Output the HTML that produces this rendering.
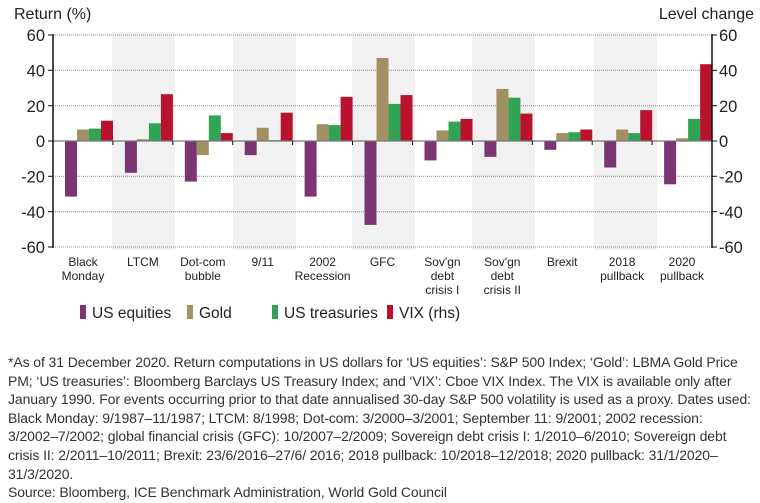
<!DOCTYPE html>
<html><head><meta charset="utf-8"><style>
body{margin:0;background:#fff;font-family:"Liberation Sans",sans-serif;color:#222}
.note{position:absolute;left:8px;top:353px;width:752px;font-size:14px;letter-spacing:-0.1px;line-height:18.6px;color:#333;white-space:nowrap}
</style></head><body>
<div style="position:relative;width:760px;height:503px;overflow:hidden">
<svg width="760" height="503" style="position:absolute;left:0;top:0" font-family="Liberation Sans, sans-serif">
<g fill="#f1f1f1">
<rect x="112" y="32" width="63" height="218"/>
<rect x="233" y="32" width="63" height="218"/>
<rect x="352" y="32" width="63" height="218"/>
<rect x="472" y="32" width="63" height="218"/>
<rect x="594" y="32" width="63" height="218"/>
</g>
<g stroke="#888" stroke-dasharray="1,1" stroke-width="1">
<line x1="53" x2="712" y1="35" y2="35"/><line x1="53" x2="712" y1="70.3" y2="70.3"/>
<line x1="53" x2="712" y1="105.7" y2="105.7"/><line x1="53" x2="712" y1="176.3" y2="176.3"/>
<line x1="53" x2="712" y1="211.7" y2="211.7"/><line x1="53" x2="712" y1="247" y2="247"/>
</g>
<g id="bars"></g>
<line x1="53" x2="712" y1="141" y2="141" stroke="#777" stroke-width="1.2"/>
<g stroke="#111" stroke-width="1.5">
<line x1="53" x2="53" y1="34" y2="248"/><line x1="712" x2="712" y1="34" y2="248"/>
</g>
<g id="ticks" stroke="#111" stroke-width="1"></g>
<g font-size="16.5" fill="#222" text-anchor="end">
<text x="45" y="41">60</text><text x="45" y="76.5">40</text><text x="45" y="112">20</text><text x="45" y="147">0</text><text x="45" y="182.5">-20</text><text x="45" y="218">-40</text><text x="45" y="253">-60</text>
</g>
<g font-size="16.5" fill="#222" text-anchor="start">
<text x="719" y="41">60</text><text x="719" y="76.5">40</text><text x="719" y="112">20</text><text x="719" y="147">0</text><text x="719" y="182.5">-20</text><text x="719" y="218">-40</text><text x="719" y="253">-60</text>
</g>
<text x="14" y="19" font-size="16" fill="#222">Return (%)</text>
<text x="754" y="19" font-size="16" fill="#222" text-anchor="end">Level change</text>
<g id="cats" font-size="12" fill="#222" text-anchor="middle"></g>
<g font-size="15.5" fill="#222">
<rect x="80" y="305" width="6" height="14" fill="#7b3572"/><text x="92" y="318">US equities</text>
<rect x="187" y="305" width="6" height="14" fill="#a09064"/><text x="199" y="318">Gold</text>
<rect x="272" y="305" width="6" height="14" fill="#31a354"/><text x="284" y="318">US treasuries</text>
<rect x="387" y="305" width="6" height="14" fill="#b8122f"/><text x="399" y="318">VIX (rhs)</text>
</g>
</svg>
<div class="note">*As of 31 December 2020. Return computations in US dollars for ‘US equities’: S&amp;P 500 Index; ‘Gold’: LBMA Gold Price<br>PM; ‘US treasuries’: Bloomberg Barclays US Treasury Index; and ‘VIX’: Cboe VIX Index. The VIX is available only after<br>January 1990. For events occurring prior to that date annualised 30-day S&amp;P 500 volatility is used as a proxy. Dates used:<br>Black Monday: 9/1987–11/1987; LTCM: 8/1998; Dot-com: 3/2000–3/2001; September 11: 9/2001; 2002 recession:<br>3/2002–7/2002; global financial crisis (GFC): 10/2007–2/2009; Sovereign debt crisis I: 1/2010–6/2010; Sovereign debt<br>crisis II: 2/2011–10/2011; Brexit: 23/6/2016–27/6/ 2016; 2018 pullback: 10/2018–12/2018; 2020 pullback: 31/1/2020–<br>31/3/2020.<br>Source: Bloomberg, ICE Benchmark Administration, World Gold Council</div>
</div>
<script>
var d=[[-31.5,6.5,7,11.5],[-18,1,10,26.5],[-23,-8,14.5,4.5],[-8,7.5,0.5,16],[-31.5,9.5,9,25],[-47.5,47,21,26],[-11,6,11,12.5],[-9,29.5,24.5,15.5],[-5,4.5,5,6.5],[-15,6.5,4.5,17.5],[-24.5,1.5,12.5,43.5]];
var labs=[["Black","Monday"],["LTCM"],["Dot-com","bubble"],["9/11"],["2002","Recession"],["GFC"],["Sov'gn","debt","crisis I"],["Sov'gn","debt","crisis II"],["Brexit"],["2018","pullback"],["2020","pullback"]];
var col=["#7b3572","#a09064","#31a354","#b8122f"];
var w=659/11,s=212/120,z=141,h="",t="",c="";
for(var i=0;i<11;i++){var x0=53+i*w;
for(var j=0;j<4;j++){var v=d[i][j],y=v>=0?z-v*s:z,hh=Math.abs(v)*s;
h+='<rect x="'+(x0+12+j*12).toFixed(1)+'" y="'+y.toFixed(1)+'" width="12" height="'+hh.toFixed(1)+'" fill="'+col[j]+'"/>';}
t+='<line x1="'+(x0+w).toFixed(1)+'" x2="'+(x0+w).toFixed(1)+'" y1="141" y2="145"/>';
for(var k=0;k<labs[i].length;k++)c+='<text x="'+(x0+w/2).toFixed(1)+'" y="'+(266+k*14)+'">'+labs[i][k]+'</text>';}
var ys=[35,70.3,105.7,141,176.3,211.7,247];
for(var q=0;q<7;q++){t+='<line x1="48" x2="53" y1="'+ys[q]+'" y2="'+ys[q]+'"/><line x1="712" x2="717" y1="'+ys[q]+'" y2="'+ys[q]+'"/>';}
document.getElementById("bars").innerHTML=h;document.getElementById("ticks").innerHTML=t;document.getElementById("cats").innerHTML=c;
</script>
</body></html>
